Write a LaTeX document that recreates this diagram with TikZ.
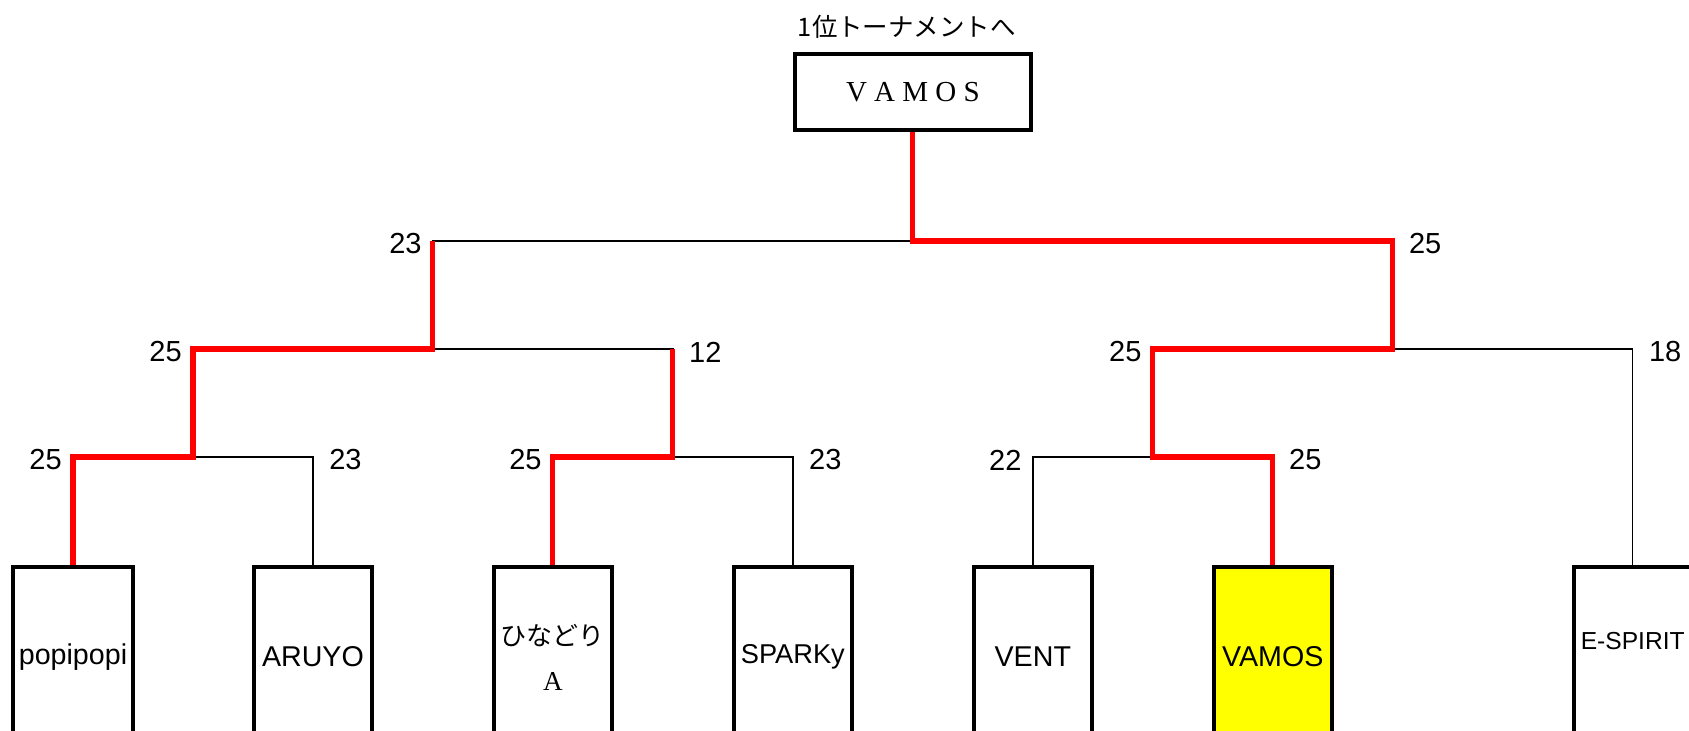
\documentclass[tikz,border=0pt]{standalone}
\usepackage{fontspec}
\setmainfont{Liberation Sans}
\newfontfamily\jpfont{Noto Sans CJK JP}
\newfontfamily\mincho{Liberation Serif}
\usetikzlibrary{positioning,calc}
\definecolor{winyellow}{RGB}{255,255,0}

\tikzset{
	team/.style={draw, line width=2.3pt, minimum width=2.35cm, minimum height=3.6cm, font=\fontsize{16.3}{19}\selectfont},
	winbox/.style={draw, line width=2.3pt, minimum width=4.72cm, minimum height=1.52cm, font=\mincho\fontsize{16.5}{20}\selectfont},
	bline/.style={line width=0.85pt},
	rline/.style={red, line width=2.9pt},
	score/.style={inner sep=0pt, font=\fontsize{16.5}{20}\selectfont},
	lscore/.style={score, anchor=east, xshift=-0.22cm, yshift=-0.06cm},
	rscore/.style={score, anchor=west, xshift=0.32cm, yshift=-0.06cm},
}

\begin{document}
\begin{tikzpicture}[x=0.02cm, y=-0.02cm, on grid]
	\useasboundingbox (0,0) rectangle (1689,730);
	\clip (0,0) rectangle (1689,730);
	
	% teams
	\node[team, anchor=north] (a1) at (73,565) {popipopi};
	\node[team, right=4.8cm of a1] (a2) {ARUYO};
	\node[team, right=4.8cm of a2, align=center, font=\jpfont\fontsize{14.8}{25.6}\selectfont] (a3) {ひなどり\\{\mincho\fontsize{15.5}{25.6}\selectfont A}};
	\node[team, right=4.8cm of a3, font=\fontsize{15.5}{19}\selectfont] (a4) {SPARKy};
	\node[team, right=4.8cm of a4] (a5) {VENT};
	\node[team, right=4.8cm of a5, fill=winyellow] (a6) {VAMOS};
	\node[team, right=7.2cm of a6, font=\fontsize{14}{17}\selectfont] (a7) {\smash{\raisebox{4.5pt}{E-SPIRIT}}};
	
	% junctions
	\coordinate (b1) at ($(a1.north)!.5!(a2.north)+(0,-108)$);
	\coordinate (b2) at ($(a3.north)!.5!(a4.north)+(0,-108)$);
	\coordinate (b3) at ($(a5.north)!.5!(a6.north)+(0,-108)$);
	\coordinate (c1) at ($(b1)!.5!(b2)+(0,-108)$);
	\coordinate (c2) at ($(b3)!.5!(b3 -| a7.north)+(0,-108)$);
	\coordinate (d1) at ($(c1)!.5!(c2)+(0,-108)$);
	
	\node[winbox] (w) at ($(d1)+(0,-149)$) {V A M O S};
	\node[above=1.3cm of w, xshift=-0.12cm, font=\jpfont\fontsize{14.5}{17}\selectfont] (ttl) {1位トーナメントへ};
	
	\draw[bline] (a1.north) |- (b1) -| (a2.north);
	\draw[bline] (a3.north) |- (b2) -| (a4.north);
	\draw[bline] (a5.north) |- (b3) -| (a6.north);
	\draw[bline] (b1) |- (c1) -| (b2);
	\draw[bline] (b3) |- (c2) -| (a7.north);
	\draw[bline] (c1) |- (d1) -| (c2);
	
	% winners
	\draw[rline] (a1.north) |- (b1) |- (c1) -- (c1 |- d1);
	\draw[rline] (a3.north) |- (b2) -- (b2 |- c1);
	\draw[rline] (a6.north) |- (b3) |- (c2) |- (d1) -- (w.south);
	
	% scores
	\node[lscore] (sc1) at (a1.north |- b1) {25};
	\node[rscore] (sc2) at (a2.north |- b1) {23};
	\node[lscore] (sc3) at (a3.north |- b2) {25};
	\node[rscore] (sc4) at (a4.north |- b2) {23};
	\node[lscore] (sc5) at (a5.north |- b3) {22};
	\node[rscore] (sc6) at (a6.north |- b3) {25};
	\node[lscore] (sc7) at (b1 |- c1) {25};
	\node[rscore] (sc8) at (b2 |- c1) {12};
	\node[lscore] (sc9) at (b3 |- c2) {25};
	\node[rscore] (sc10) at (a7.north |- c2) {18};
	\node[lscore] (sc11) at (c1 |- d1) {23};
	\node[rscore] (sc12) at (c2 |- d1) {25};
\end{tikzpicture}
\end{document}
